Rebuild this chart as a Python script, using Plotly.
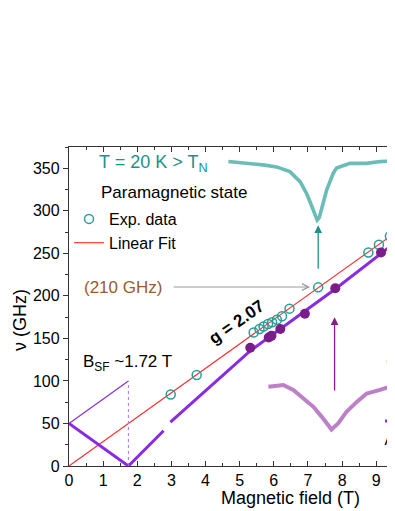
import plotly.graph_objects as go

# paramagnetic ESR lines, open circles (T = 20 K)
exp_B = [2.98, 3.74, 5.41, 5.58, 5.70, 5.83, 5.95, 6.09, 6.24, 6.46, 7.30, 8.77, 9.08, 9.40]
exp_nu = [84, 107, 157, 161, 164, 167, 169, 172, 176, 185, 210, 251, 260, 270]

# AFMR points, filled circles
afm_B = [5.31, 5.85, 5.93, 6.19, 6.91, 7.80, 9.14]
afm_nu = [139, 151, 153, 161, 179, 209, 251]

# linear fit g = 2.07
fit_B = [0, 9.6]
fit_nu = [0, 275.5]

# AFMR branches (thick line), gap near 2.9 T
afmr_B = [0, 1.74, 2.77, None, 2.97, 3.85, 5.30, 7.80, 9.60]
afmr_nu = [50, 0, 41.5, None, 51.5, 83, 135, 208, 264]

# low-field thin branch and spin-flop marker
low_B = [0, 1.74]
low_nu = [50, 100]
sf_B = [1.74, 1.74]
sf_nu = [0, 100]

# inset spectra (normalised signal)
para_B = [4.67, 5.30, 5.74, 6.08, 6.47, 6.77, 6.96, 7.06, 7.16, 7.24, 7.27, 7.33, 7.40, 7.47,
          7.55, 7.65, 7.74, 7.84, 8.23, 8.72, 9.11, 9.55, 9.70]
para_sig = [0.99, 0.96, 0.93, 0.90, 0.82, 0.65, 0.45, 0.31, 0.17, 0.05, 0.0, 0.04, 0.17, 0.34,
            0.51, 0.65, 0.79, 0.88, 0.96, 0.96, 0.99, 1.0, 1.0]

afm_spec_B = [5.84, 6.28, 6.57, 6.86, 7.16, 7.40, 7.65, 7.69, 7.89, 8.13, 8.43, 8.72, 9.11, 9.50, 9.70]
afm_spec_sig = [0.96, 1.0, 0.89, 0.70, 0.51, 0.29, 0.03, 0.0, 0.14, 0.40, 0.62, 0.81, 0.89, 1.0, 1.04]

# labels cut by the right edge of the panel
edge_B = [9.29, 9.24]
edge_nu = [122, 29.5]
edge_txt = ["(210 GHz)", "AFMR"]

TEAL = "#2a9d98"
TEAL_TXT = "#1b918c"
PURPLE = "#8a2be2"
DOT = "#7a1d88"
FONT = "Liberation Sans, Arial, sans-serif"


def px(x, y):
    # screen pixel -> paper coords (plot area 69..395 x 147..466 on screen)
    return (x - 69) / 326, (466 - y) / 319


fig = go.Figure()

fig.add_trace(go.Scatter(x=para_B, y=para_sig, yaxis="y2", mode="lines",
                         line=dict(color="#45aca6", width=3.6), opacity=0.8, showlegend=False))
fig.add_trace(go.Scatter(x=afm_spec_B, y=afm_spec_sig, yaxis="y3", mode="lines",
                         line=dict(color="#a655b6", width=4), opacity=0.75, showlegend=False))

fig.add_trace(go.Scatter(x=fit_B, y=fit_nu, mode="lines", name="Linear Fit", legendrank=2,
                         line=dict(color="#ff2a2a", width=1.1)))
fig.add_trace(go.Scatter(x=afmr_B, y=afmr_nu, mode="lines", showlegend=False,
                         line=dict(color=PURPLE, width=3)))
fig.add_trace(go.Scatter(x=low_B, y=low_nu, mode="lines", showlegend=False,
                         line=dict(color=PURPLE, width=1.2)))
fig.add_trace(go.Scatter(x=sf_B, y=sf_nu, mode="lines", showlegend=False,
                         line=dict(color="#b070f0", width=1, dash="dot")))
fig.add_trace(go.Scatter(x=exp_B, y=exp_nu, mode="markers", name="Exp. data", legendrank=1,
                         marker=dict(symbol="circle-open", size=9, color=TEAL, line=dict(width=1.5))))
fig.add_trace(go.Scatter(x=afm_B, y=afm_nu, mode="markers", showlegend=False,
                         marker=dict(symbol="circle", size=10, color=DOT)))
fig.add_trace(go.Scatter(x=edge_B, y=edge_nu, mode="text", text=edge_txt, textposition="middle right",
                         textfont=dict(size=16, color="black", family=FONT), showlegend=False,
                         cliponaxis=True, hoverinfo="skip"))

ann = []


def text(x, y, s, size=17, color="black", anchor="left", **kw):
    xp, yp = px(x, y)
    ann.append(dict(x=xp, y=yp, xref="paper", yref="paper", text=s, showarrow=False,
                    xanchor=anchor, yanchor="middle", font=dict(size=size, color=color, family=FONT), **kw))


text(97, 164, "T = 20 K > T<sub>N</sub>", 18, TEAL_TXT)
text(99, 192, "Paramagnetic state", 17)
text(82, 287, "(210 GHz)", 17, "#9a5a2c")
text(81, 363, "B<sub>SF</sub> ~1.72 T", 17)
text(236, 322, "<b>g = 2.07</b>", 17, anchor="center", textangle=-35)
text(290, 498, "Magnetic field (T)", 18, anchor="center")
text(20, 320, "\u03bd (GHz)", 18, anchor="center", textangle=-90)

# arrows
ann.append(dict(x=7.3, y=283, ax=7.3, ay=230, xref="x", yref="y", axref="x", ayref="y",
                showarrow=True, arrowhead=2, arrowsize=1.2, arrowwidth=1.3, arrowcolor="#1f8f8a", text=""))
ann.append(dict(x=7.78, y=175, ax=7.78, ay=87, xref="x", yref="y", axref="x", ayref="y",
                showarrow=True, arrowhead=2, arrowsize=1.2, arrowwidth=1.3, arrowcolor="#8b1a8e", text=""))
ann.append(dict(x=7.06, y=210.4, ax=3.02, ay=210.4, xref="x", yref="y", axref="x", ayref="y",
                showarrow=True, arrowhead=5, arrowsize=1.3, arrowwidth=1, arrowcolor="#9a9a9a", text=""))

x0, y0 = px(385, 421)
x1, _ = px(400, 421)
shapes = [dict(type="line", xref="paper", yref="paper", x0=x0, x1=x1, y0=y0, y1=y0,
               line=dict(color=PURPLE, width=3))]

lx, ly = px(69, 202)

# page body adds an 8 px offset, so the figure is 8 px smaller than the window
fig.update_layout(
    width=387, height=503,
    margin=dict(l=61, r=0, t=139, b=45),
    paper_bgcolor="white", plot_bgcolor="white",
    font=dict(family=FONT, size=16, color="black"),
    annotations=ann, shapes=shapes,
    legend=dict(x=lx, y=ly, xanchor="left", yanchor="top", bgcolor="rgba(0,0,0,0)",
                font=dict(size=16), tracegroupgap=0, traceorder="normal"),
    xaxis=dict(range=[0, 9.55], showgrid=False, zeroline=False, showline=True, linecolor="#333",
               linewidth=1.3, mirror="ticks", ticks="inside", ticklen=5, tickcolor="#333",
               dtick=1, tickfont=dict(size=16),
               minor=dict(dtick=0.5, ticks="inside", ticklen=3, tickcolor="#333")),
    yaxis=dict(range=[0, 375], showgrid=False, zeroline=False, showline=True, linecolor="#333",
               linewidth=1.3, ticks="outside", ticklen=5, tickcolor="#333", dtick=50,
               tickfont=dict(size=16),
               minor=dict(dtick=25, ticks="outside", ticklen=3, tickcolor="#333")),
    yaxis2=dict(overlaying="y", range=[-4.169, 1.237], visible=False),
    yaxis3=dict(overlaying="y", range=[-0.820, 6.349], visible=False),
)

fig.write_html("out.html")
